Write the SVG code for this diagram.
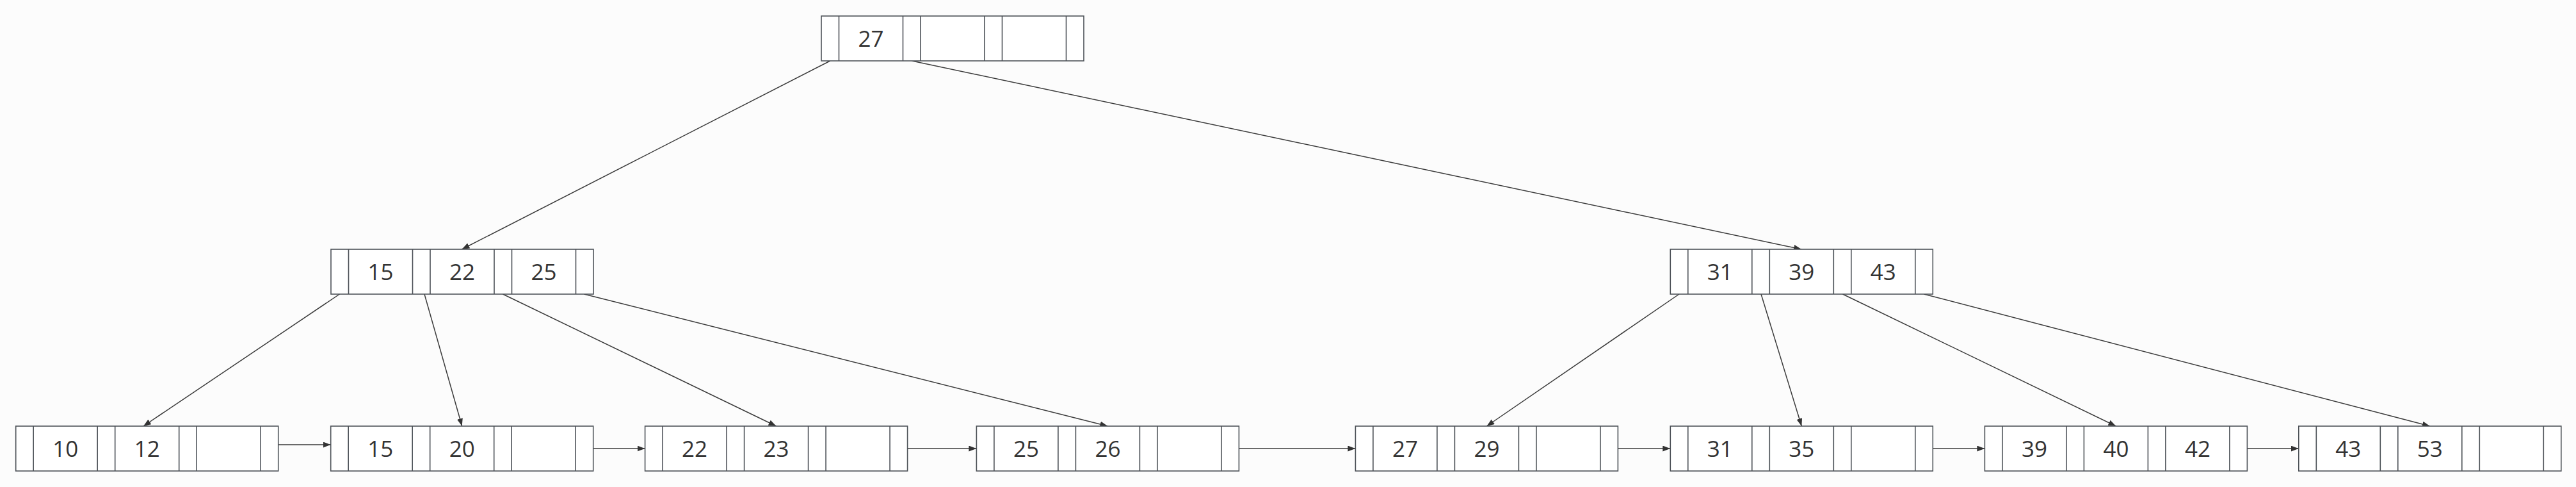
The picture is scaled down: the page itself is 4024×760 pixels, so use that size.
<svg xmlns="http://www.w3.org/2000/svg" xmlns:xlink="http://www.w3.org/1999/xlink" width="4024" height="760" viewBox="0 0 4024 760">
<style>
.frame{fill:#ffffff;stroke:#4d5258;stroke-width:1.6}
.sep{fill:none;stroke:#4d5258;stroke-width:1.6}
.key{font-family:"Open Sans","Noto Sans",sans-serif;font-size:35px;fill:#333333;text-anchor:middle}
.edge{fill:none;stroke:#3a3a3a;stroke-width:1.5;marker-end:url(#arrow)}
</style>
<defs>
<marker id="arrow" markerUnits="userSpaceOnUse" markerWidth="13" markerHeight="10" refX="12" refY="4.5" orient="auto">
<path d="M0,0 L12,4.5 L0,9 Z" fill="#333333"/>
</marker>
<g id="node">
<rect class="frame" x="0" y="0" width="410" height="70"/>
<path class="sep" d="M27.5,0V70M127.5,0V70M155,0V70M255,0V70M282.5,0V70M382.5,0V70"/>
</g>
</defs>
<rect x="0" y="0" width="4024" height="760" fill="#fcfcfc"/>
<g id="connectors">
<line class="edge" x1="1296.8" y1="95" x2="721.5" y2="389"/>
<line class="edge" x1="1424.5" y1="95" x2="2814" y2="389"/>
<line class="edge" x1="530.5" y1="459" x2="224" y2="665"/>
<line class="edge" x1="663" y1="459" x2="721.7" y2="665"/>
<line class="edge" x1="785.5" y1="459" x2="1212.6" y2="665"/>
<line class="edge" x1="912.5" y1="459" x2="1730.4" y2="665"/>
<line class="edge" x1="2623" y1="459" x2="2322.4" y2="665"/>
<line class="edge" x1="2751" y1="459" x2="2814.3" y2="665"/>
<line class="edge" x1="2878.5" y1="459" x2="3305.4" y2="665"/>
<line class="edge" x1="3005.5" y1="459" x2="3795.8" y2="665"/>
<line class="edge" x1="434.7" y1="694" x2="516.7" y2="694"/>
<line class="edge" x1="926.7" y1="700" x2="1007.6" y2="700"/>
<line class="edge" x1="1417.6" y1="700" x2="1525.4" y2="700"/>
<line class="edge" x1="1935.4" y1="700" x2="2117.4" y2="700"/>
<line class="edge" x1="2527.4" y1="700" x2="2609.3" y2="700"/>
<line class="edge" x1="3019.3" y1="700" x2="3100.4" y2="700"/>
<line class="edge" x1="3510.4" y1="700" x2="3590.8" y2="700"/>
</g>
<g id="root" transform="translate(1283,25)">
<use xlink:href="#node"/>
<text class="key" x="77.5" y="47.7">27</text>
</g>
<g id="inner-left" transform="translate(517,389)">
<use xlink:href="#node"/>
<text class="key" x="77.5" y="47.5">15</text>
<text class="key" x="205" y="47.5">22</text>
<text class="key" x="332.5" y="47.5">25</text>
</g>
<g id="inner-right" transform="translate(2609.3,389)">
<use xlink:href="#node"/>
<text class="key" x="77.5" y="47.5">31</text>
<text class="key" x="205" y="47.5">39</text>
<text class="key" x="332.5" y="47.5">43</text>
</g>
<g id="leaf-1" transform="translate(24.7,665)">
<use xlink:href="#node"/>
<text class="key" x="77.5" y="47.5">10</text>
<text class="key" x="205" y="47.5">12</text>
</g>
<g id="leaf-2" transform="translate(516.7,665)">
<use xlink:href="#node"/>
<text class="key" x="77.5" y="47.5">15</text>
<text class="key" x="205" y="47.5">20</text>
</g>
<g id="leaf-3" transform="translate(1007.6,665)">
<use xlink:href="#node"/>
<text class="key" x="77.5" y="47.5">22</text>
<text class="key" x="205" y="47.5">23</text>
</g>
<g id="leaf-4" transform="translate(1525.4,665)">
<use xlink:href="#node"/>
<text class="key" x="77.5" y="47.5">25</text>
<text class="key" x="205" y="47.5">26</text>
</g>
<g id="leaf-5" transform="translate(2117.4,665)">
<use xlink:href="#node"/>
<text class="key" x="77.5" y="47.5">27</text>
<text class="key" x="205" y="47.5">29</text>
</g>
<g id="leaf-6" transform="translate(2609.3,665)">
<use xlink:href="#node"/>
<text class="key" x="77.5" y="47.5">31</text>
<text class="key" x="205" y="47.5">35</text>
</g>
<g id="leaf-7" transform="translate(3100.4,665)">
<use xlink:href="#node"/>
<text class="key" x="77.5" y="47.5">39</text>
<text class="key" x="205" y="47.5">40</text>
<text class="key" x="332.5" y="47.5">42</text>
</g>
<g id="leaf-8" transform="translate(3590.8,665)">
<use xlink:href="#node"/>
<text class="key" x="77.5" y="47.5">43</text>
<text class="key" x="205" y="47.5">53</text>
</g>
</svg>
